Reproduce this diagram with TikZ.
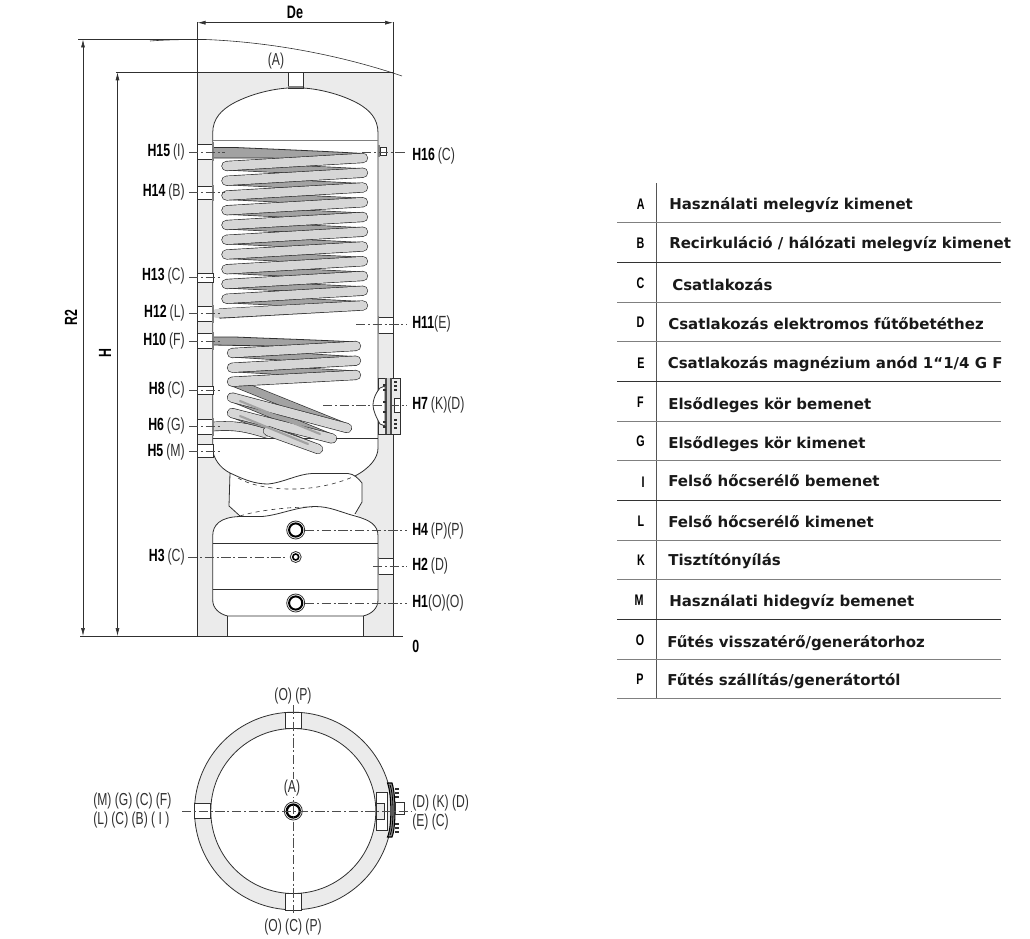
\documentclass[tikz,border=0pt]{standalone}
\usepackage{fontspec}
\usetikzlibrary{arrows.meta}
\setmainfont{Liberation Sans}
\newfontfamily\condf[FakeStretch=0.7]{Liberation Sans}
\newfontfamily\tabf{DejaVu Sans}
\definecolor{ins}{HTML}{EBEBEB}
\definecolor{ink}{HTML}{303030}
\definecolor{coilF}{HTML}{D6D6D6}
\definecolor{coilB}{HTML}{A2A2A2}
\definecolor{rulec}{HTML}{555555}
\newcommand{\lab}[2]{{\condf\bfseries #1}\hspace{2.2pt}{\condf\color{ink}#2}}
\tikzset{
 ln/.style={draw=ink,line width=0.6pt},
 thinln/.style={draw=ink,line width=0.45pt},
 dd/.style={draw=black!70,line width=0.45pt,dash pattern=on 7pt off 2pt on 1.5pt off 2pt},
 ll/.style={anchor=west,inner sep=0pt,font=\fontsize{13.2}{14}\selectfont},
 lr/.style={anchor=east,inner sep=0pt,font=\fontsize{13.2}{14}\selectfont},
 lc/.style={anchor=center,inner sep=0pt,font=\fontsize{13}{14}\selectfont\condf\color{ink}},
 tl/.style={anchor=west,inner sep=0pt,yshift=-0.8pt,font=\fontsize{11.25}{13}\selectfont\tabf\bfseries\color{black!90}},
 tk/.style={anchor=center,inner sep=0pt,font=\fontsize{11.5}{13}\selectfont\condf\bfseries},
 fit/.style={draw=ink,line width=0.6pt,fill=white},
 dimt/.style={draw=ink,line width=0.5pt,{Latex[length=6pt,width=3pt]}-{Latex[length=6pt,width=3pt]}},
 stripb/.style={draw=ink,line width=0.6pt,fill=coilB},
}
\newcommand{\fitL}[2]{\draw[fit] (197.5,#1) rectangle (213,#2);}
\newcommand{\fitLF}[2]{\draw[fit] (197.5,#1) rectangle (213,#2);\fill[gray] (212.2,#1-1.5) rectangle (214,#2+1.5);}
\newcommand{\front}[2]{\draw[line width=7.6pt,line cap=round,ink] #1 -- #2;\draw[line width=6.6pt,line cap=round,coilF] #1 -- #2;}
\newcommand{\back}[2]{\draw[line width=6.6pt,line cap=round,ink] #1 -- #2;\draw[line width=5.6pt,line cap=round,coilB] #1 -- #2;}
\begin{document}
\begin{tikzpicture}[x=0.75pt,y=-0.75pt]
\useasboundingbox (0,0) rectangle (1030,938);
% insulation
\fill[ins] (197.5,72.5) rectangle (393,636);
\draw[thinln] (197.5,22) -- (197.5,636);
\draw[thinln] (393,22) -- (393,636);
% tank fill
\path[fill=white] (212.7,438) -- (212.7,133) .. controls (212.7,118) and (222,110) .. (232,104) .. controls (250,94) and (272,89) .. (288,88) -- (303,88) .. controls (319,89) and (341,94) .. (359,104) .. controls (369,110) and (378,118) .. (378,133) -- (378,448) .. controls (378,458) and (370,468) .. (355,476) -- (362,483) -- (362,502) -- (355,514) -- (360,517) .. controls (370,520) and (378,525) .. (378,536) -- (378,598) .. controls (378,608) and (372,614) .. (363,616) -- (363,636) -- (227.7,636) -- (227.7,616) .. controls (219,614) and (212.7,608) .. (212.7,598) -- (212.7,536) .. controls (212.7,525) and (220,517) .. (240,516) -- (229,506) -- (230,473) .. controls (220,468) and (212.7,458) .. (212.7,448) -- cycle;
% upper tank outline
\draw[ln] (212.7,448) -- (212.7,133) .. controls (212.7,118) and (222,110) .. (232,104) .. controls (250,94) and (272,89) .. (288,88);
\draw[ln] (303,88) .. controls (319,89) and (341,94) .. (359,104) .. controls (369,110) and (378,118) .. (378,133) -- (378,448);
\draw[ln] (212.7,448) .. controls (212.7,458) and (220,468) .. (230,473);
\draw[ln] (378,448) .. controls (378,458) and (370,468) .. (355,476);
% jacket
\draw[ln] (240,516) -- (229,506) -- (230,473) .. controls (245,480) and (255,484) .. (268,484) .. controls (282,483) and (298,474) .. (312,473.5) -- (348,473.5) .. controls (354,474) and (358,478) .. (362,483) -- (362,502) -- (355,514);
\draw[thinln,dashed] (238,478) .. controls (258,490) and (310,496) .. (355,476);
\draw[thinln,dashed] (240,516) .. controls (255,511) and (285,507) .. (312,507);
% lower tank
\draw[ln] (212.7,600) -- (212.7,536) .. controls (212.7,525) and (220,517) .. (240,516.5) -- (262,516.5) .. controls (280,515) and (295,507) .. (315,506.5) .. controls (330,506.5) and (340,512) .. (355,516) .. controls (370,520) and (378,525) .. (378,536) -- (378,600);
\draw[ln] (212.7,600) .. controls (212.7,608) and (219,614) .. (227.7,616) -- (363,616) .. controls (372,614) and (378,608) .. (378,600);
\draw[ln] (227.7,616) -- (227.7,636);
\draw[ln] (363,616) -- (363,636);
\draw[ln] (212.7,543) -- (378,543);
\draw[ln] (212.7,589) -- (378,589);
% top fitting
\draw[fit] (288,72.5) rectangle (303,88);
\fill[gray] (288,86) rectangle (303,88);
% levels
\draw[draw=black!50,line width=0.7pt] (212.7,140.5) -- (378,140.5);
\draw[ln] (212.7,438) -- (378,438);
% upper coil
\foreach \i in {0,...,9}{
  \pgfmathsetmacro{\rr}{158+14.75*\i}
  \pgfmathsetmacro{\lll}{\rr+8}
  \pgfmathsetmacro{\rn}{\rr+14.75}
  \back{(226,\lll)}{(363,\rn)}
}
\draw[stripb] (213,147.5) -- (235,147.5) .. controls (270,149) and (320,151) .. (363,153.5) -- (363,162) -- (270,158) -- (213,158) -- cycle;
\foreach \i in {0,...,9}{
  \pgfmathsetmacro{\rr}{158+14.75*\i}
  \pgfmathsetmacro{\lll}{\rr+8}
  \front{(363,\rr)}{(226.5,\lll)}
}
\draw[line width=7.6pt,line cap=round,ink] (363,305.5) -- (220,313.5);
\draw[line width=6.6pt,line cap=round,coilF] (363,305.5) -- (216,313.5);
% lower coil
\foreach \a/\b in {353/360.7,367.7/375}{\back{(232,\a)}{(356,\b)}}
\draw[stripb] (213,337) -- (235,337) .. controls (270,338.5) and (320,340) .. (356,342) -- (356,350) -- (270,346) -- (213,345) -- cycle;
\back{(232,381.7)}{(347,428)}
\back{(232,397.5)}{(332,438.5)}
\back{(232,413)}{(318,449)}
\foreach \a/\b in {346/353,360.7/367.7,375/381.7}{\front{(356,\a)}{(232,\b)}}
\draw[line width=7.2pt,ink] (213,426.5) .. controls (235,425) and (245,427) .. (268,434);
\draw[line width=6.2pt,coilF] (213,426.5) .. controls (235,425) and (245,427) .. (268,434);
\front{(347,428)}{(232,397.5)}
\front{(332,438.5)}{(232,413)}
\front{(318,449)}{(268,431)}
\draw[line width=1.6pt,coilB,line cap=round] (240,401) -- (320,434);
\draw[line width=1.6pt,coilB,line cap=round] (240,416) -- (308,444);
% fittings left
\fitLF{144}{159}
\fitLF{186.7}{199}
\fitL{273}{282}
\fitLF{306}{321}
\fitLF{333}{348}
\fitL{386}{394}
\fitLF{419}{434}
\fitL{444}{457}
% fittings right
\draw[fit] (380,147) rectangle (386,155);
\fill[gray] (378,145) rectangle (380,157);
\draw[fit] (378,317) rectangle (393,333);
\fill[gray] (377.5,316) rectangle (379,334);
\draw[fit] (378,558) rectangle (393,574);
\fill[gray] (377.5,557) rectangle (379,575);
% H7 flange
\draw[fit,fill=ins] (378,378.3) rectangle (400.7,434);
\draw[ln,fill=white] (380,388) .. controls (374,395) and (373,402) .. (373,405) .. controls (373,410) and (376,417) .. (380,424) -- (385,426) -- (385,386) -- cycle;
\fill[black!70] (385,378.3) rectangle (392,434);
\fill[black!20] (387,378.3) rectangle (390,434);
\draw[fit,fill=white] (394,398) rectangle (400.7,412);
\foreach \yy in {382,386,390,420,424,428}{\fill[ink] (393.5,\yy-1.2) rectangle (397,\yy+1.2);}
\foreach \yy in {385,390,402,412,422,427}{\fill[ink] (383,\yy-1) rectangle (386,\yy+1);}
% circles
\foreach \yy/\rr in {530/9,603/9}{
  \draw[fit] (295.7,\yy) circle (\rr);
  \draw[black,line width=1.5pt] (295.7,\yy) circle (\rr-2.4);
}
\draw[fit] (295.7,557) circle (5.5);
\draw[black,line width=1.2pt] (295.7,557) circle (3);
% dimension lines
\draw[dimt] (197.5,22.7) -- (393,22.7);
\node[inner sep=0pt,font=\fontsize{13.5}{14}\selectfont\condf\bfseries] (De) at (295,12) {De};
\draw[thinln] (78,39.5) -- (197.5,39.5);
\draw[thinln] (150,41) .. controls (170,39.5) and (190,39.5) .. (205,39.5) .. controls (270,42) and (340,55) .. (402,76);
\draw[thinln] (116,72.3) -- (393,72.3);
\draw[thinln] (80,636) -- (403,636);
\draw[dimt] (83,39.5) -- (83,636);
\draw[dimt] (117.5,72.3) -- (117.5,636);
\node[inner sep=0pt,rotate=90,font=\fontsize{13.2}{14}\selectfont\condf\bfseries] (R2) at (71,318) {R2};
\node[inner sep=0pt,rotate=90,font=\fontsize{13.2}{14}\selectfont\condf\bfseries] (Hh) at (105,353) {H};
% leaders
\foreach \xa/\xb/\yy in {189/225/152,189/225/192,189/220/277,189/220/313,189/220/341,189/220/390,189/220/426,189/222/451,362/405/152,356/407/324,323/407/405,305/407/530,188/288/557,373/407/566,305/407/603}{
 \draw[dd] (\xa,\yy) -- (\xb,\yy);
}
% labels left
\node[lc] (la) at (276,61.5) {(A)};
\node[lr] (h15) at (185,152) {\lab{H15}{(I)}};
\node[lr] (h14) at (185,192) {\lab{H14}{(B)}};
\node[lr] (h13) at (185,276) {\lab{H13}{(C)}};
\node[lr] (h12) at (185,313) {\lab{H12}{(L)}};
\node[lr] (h10) at (185,341) {\lab{H10}{(F)}};
\node[lr] (h8) at (185,390) {\lab{H8}{(C)}};
\node[lr] (h6) at (185,426) {\lab{H6}{(G)}};
\node[lr] (h5) at (185,452) {\lab{H5}{(M)}};
\node[lr] (h3) at (185,557) {\lab{H3}{(C)}};
% labels right
\node[ll] (h16) at (412,156) {\lab{H16}{(C)}};
\node[ll] (h11) at (412,324) {{\condf\bfseries H11}{\condf\color{ink}(E)}};
\node[ll] (h7) at (412,405) {\lab{H7}{(K)(D)}};
\node[ll] (h4) at (412,531) {\lab{H4}{(P)(P)}};
\node[ll] (h2) at (412,566) {\lab{H2}{(D)}};
\node[ll] (h1) at (412,603) {{\condf\bfseries H1}{\condf\color{ink}(O)(O)}};
\node[ll] (h0) at (412,646) {{\condf\bfseries 0}};
% plan view
\fill[ins,even odd rule] (293.3,811) circle (98.8) (293.3,811) circle (82.5);
\draw[ln] (293.3,811) circle (98.8);
\draw[ln] (293.3,811) circle (82.5);
\draw[fit] (285.7,712.5) rectangle (301,728.7);
\draw[fit] (285.7,893) rectangle (301,910);
\draw[fit] (194.5,803) rectangle (210,818);
\draw[fit] (376,792) -- (387,792) -- (387,830) -- (376,830) -- cycle;
\draw[fit,fill=ins] (376,803) rectangle (384,819);
\draw[draw=black,line width=0.8pt,fill=black!45] (387.5,783) .. controls (392,795) and (392,827) .. (387.5,837) -- (392,837) .. controls (396,827) and (396,795) .. (392,783) -- cycle;
\draw[draw=black,line width=0.6pt] (390,785) .. controls (394,795) and (394,827) .. (390,835);
\draw[fit] (395.5,802) rectangle (404,814);
\foreach \yy in {789,793,797,824,828,832}{\fill[ink] (395,\yy-1.3) rectangle (399,\yy+1.3);}
\draw[fit] (293.3,811) circle (9);
\draw[black,line width=1.7pt] (293.3,811) circle (6.5);
\draw[dd] (182,811) -- (412,811);
\draw[dd] (293.3,705) -- (293.3,913);
\node[lc] (p1) at (293,696) {(O) (P)};
\node[lc,fill=white,inner sep=1pt] (p2) at (292,788) {(A)};
\node[lc,anchor=west] (p3) at (93,801) {(M) (G) (C) (F)};
\node[lc,anchor=west] (p4) at (93,820) {(L) (C) (B) ( I )};
\node[lc,anchor=west] (p5) at (412,803) {(D) (K) (D)};
\node[lc,anchor=west] (p6) at (412,822) {(E) (C)};
\node[lc] (p7) at (293,927) {(O) (C) (P)};
% table
\draw[draw=rulec,line width=0.7pt] (656.7,183) -- (656.7,698);
\foreach \yy/\cc in {222.7/black!50,262/black!80,302/black!50,341.5/black!50,381/black!80,421/black!50,460.7/black!50,500.5/black!80,540/black!50,579.5/black!50,619.5/black!80,659/black!50,698/black!50}{
 \draw[draw=\cc,line width=0.7pt] (617,\yy) -- (1000.7,\yy);
}
\node[tk] (kA) at (640.7,204) {A};
\node[tk] (kB) at (640.5,243) {B};
\node[tk] (kC) at (640.5,283) {C};
\node[tk] (kD) at (640.5,322) {D};
\node[tk] (kE) at (641,363) {E};
\node[tk] (kF) at (640.5,402) {F};
\node[tk] (kG) at (640.5,441) {G};
\node[tk] (kI) at (643,482) {I};
\node[tk] (kL) at (641,521) {L};
\node[tk] (kK) at (641,560) {K};
\node[tk] (kM) at (639,600) {M};
\node[tk] (kO) at (640,640) {O};
\node[tk] (kP) at (640,679) {P};
\node[tl] (tA) at (669,204) {Használati melegvíz kimenet};
\node[tl] (tB) at (669,243) {Recirkuláció / hálózati melegvíz kimenet};
\node[tl] (tC) at (672,284) {Csatlakozás};
\node[tl] (tD) at (668,323) {Csatlakozás elektromos fűtőbetéthez};
\node[tl] (tE) at (667.5,363) {Csatlakozás magnézium anód 1“1/4 G F};
\node[tl] (tF) at (668,404) {Elsődleges kör bemenet};
\node[tl] (tG) at (668,443) {Elsődleges kör kimenet};
\node[tl] (tI) at (668,480) {Felső hőcserélő bemenet};
\node[tl] (tL) at (668,521) {Felső hőcserélő kimenet};
\node[tl] (tK) at (668,560) {Tisztítónyílás};
\node[tl] (tM) at (669,601) {Használati hidegvíz bemenet};
\node[tl] (tO) at (667,642) {Fűtés visszatérő/generátorhoz};
\node[tl] (tP) at (667,680) {Fűtés szállítás/generátortól};
\end{tikzpicture}
\end{document}
